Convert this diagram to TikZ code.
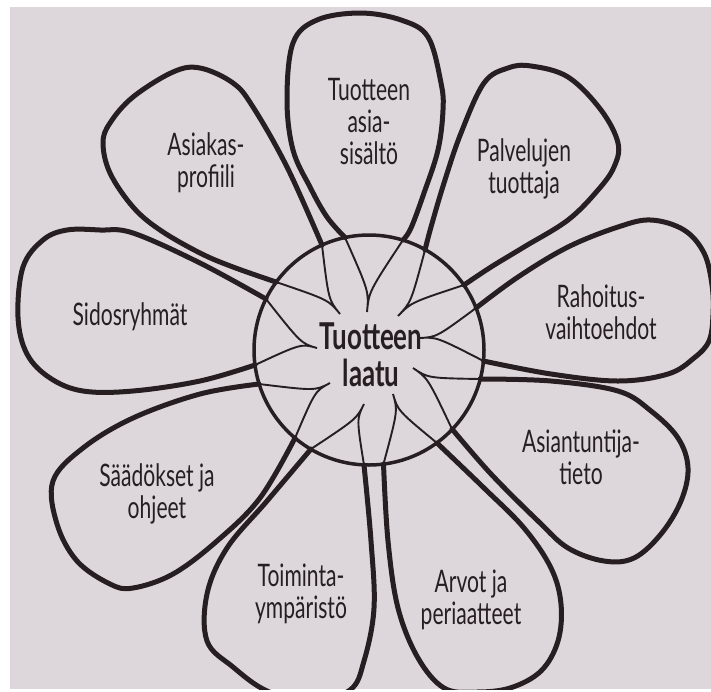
\documentclass[tikz,border=0pt]{standalone}
\usepackage{fontspec}
\usetikzlibrary{calc}
\newfontfamily\petalfont[FakeStretch=0.68]{Lato}
\newfontfamily\hubfont[FakeStretch=0.7]{Lato}
\definecolor{ink}{RGB}{38,30,32}
\definecolor{paper}{RGB}{221,215,219}
\begin{document}
\begin{tikzpicture}[x=1pt,y=-1pt,
  petal/.style={draw=ink, line width=5pt, line cap=round, line join=round},
  vein/.style={draw=ink, line width=1.9pt, line cap=round},
  hub/.style={draw=ink, line width=3.5pt, circle, minimum size=230pt, inner sep=0pt},
  lbl/.style={text=ink, align=center, font=\petalfont\fontsize{31}{32}\selectfont, inner sep=0pt},
  hubtext/.style={text=ink, align=center, font=\hubfont\bfseries\fontsize{37}{37}\selectfont, inner sep=0pt}]
\useasboundingbox (0,0) rectangle (711,691);
\fill[paper] (0,0) rectangle (711,691);
\fill[white] (0,0) rectangle (10,691);
\fill[white] (0,0) rectangle (711,7);
\fill[white] (0,689) rectangle (711,691);
\begin{scope}
\clip (10,7) rectangle (711,689);
% crossing points on the hub circle
\coordinate (a1) at (345,237.5); \coordinate (b1) at (403,240);
\coordinate (a2) at (425,250);   \coordinate (b2) at (464,285);
\coordinate (a3) at (476,308);   \coordinate (b3) at (483.5,361);
\coordinate (a4) at (480,379);   \coordinate (b4) at (452,429);
\coordinate (a5) at (437,443);   \coordinate (b5) at (383.5,464);
\coordinate (a6) at (364,465);   \coordinate (b6) at (311,449);
\coordinate (a7) at (295,438);   \coordinate (b7) at (259,384);
\coordinate (a8) at (255,365);   \coordinate (b8) at (266,299);
\coordinate (a9) at (276,282);   \coordinate (b9) at (322,245);
% petal tips
\coordinate (t1) at (367,312);
\coordinate (t2) at (398,316);
\coordinate (t3) at (420,338);
\coordinate (t4) at (413,368);
\coordinate (t5) at (393,394);
\coordinate (t6) at (364,404);
\coordinate (t7) at (330,383);
\coordinate (t8) at (317,348);
\coordinate (t9) at (340,314);
% petal outlines
\draw[petal] plot[smooth, tension=0.6] coordinates {(a1) (327,217) (310,187) (293,150) (287,100) (293,43) (317,20) (360,13) (401,20) (428,37) (441,83) (443,110) (438,150) (424,193) (411,228) (b1)};
\draw[petal] plot[smooth, tension=0.6] coordinates {(a2) (431,227) (444,183) (461,133) (484,83) (508,68) (531,66) (568,77) (601,110) (618,143) (614,167) (598,190) (568,220) (524,247) (491,267) (b2)};
\draw[petal] plot[smooth, tension=0.6] coordinates {(a3) (518,277) (568,247) (618,227) (651,220) (684,230) (704,253) (712,285) (713,315) (709,341) (694,358) (668,374) (618,381) (551,374) (b3)};
\draw[petal] plot[smooth, tension=0.6] coordinates {(a4) (551,381) (618,391) (651,411) (678,438) (688,468) (681,501) (661,534) (634,558) (604,561) (568,548) (538,521) (491,474) (b4)};
\draw[petal] plot[smooth, tension=0.6] coordinates {(a5) (484,488) (524,528) (551,568) (561,604) (558,641) (541,671) (510,688) (475,692) (444,688) (418,658) (398,608) (388,541) (b5)};
\draw[petal] plot[smooth, tension=0.6] coordinates {(a6) (371,541) (374,608) (364,661) (350,690) (310,702) (267,691) (233,667) (207,641) (207,594) (227,548) (267,501) (b6)};
\draw[petal] plot[smooth, tension=0.6] coordinates {(a7) (260,498) (217,541) (173,574) (133,588) (110,584) (77,561) (57,524) (53,481) (83,448) (133,418) (200,394) (b7)};
\draw[petal] plot[smooth, tension=0.6] coordinates {(a8) (200,381) (133,391) (83,391) (50,378) (27,354) (18,317) (23,267) (43,240) (67,230) (100,230) (133,233) (200,263) (b8)};
\draw[petal] plot[smooth, tension=0.6] coordinates {(a9) (233,267) (200,253) (160,230) (133,207) (110,173) (103,143) (110,123) (133,97) (173,72) (200,68) (233,83) (253,107) (287,167) (b9)};
% veins inside the hub
\foreach \i in {1,...,9} {
  \coordinate (m\i) at ($(a\i)!0.5!(b\i)$);
  \coordinate (c\i) at ($(t\i)!0.28!(m\i)$);
  \draw[vein] (a\i) .. controls (c\i) .. (t\i) .. controls (c\i) .. (b\i);
}
\node[hub] (hub) at (369,350) {};
\node[hubtext] (hubt) at (371,355) {Tuotteen\\laatu};
% labels
\node[lbl] (p1) at (369,122) {Tuotteen\\asia-\\sisältö};
\node[lbl] (p2) at (524,169) {Palvelujen\\tuottaja};
\node[lbl] (p3) at (601,312) {Rahoitus-\\vaihtoehdot};
\node[lbl] (p4) at (581,457) {Asiantuntija-\\tieto};
\node[lbl] (p5) at (471,600) {Arvot ja\\periaatteet};
\node[lbl] (p6) at (301,594) {Toiminta-\\ympäristö};
\node[lbl] (p7) at (157,494) {Säädökset ja\\ohjeet};
\node[lbl] (p8) at (130,317) {Sidosryhmät};
\node[lbl] (p9) at (206,163) {Asiakas-\\profiili};
\end{scope}
\end{tikzpicture}
\end{document}
